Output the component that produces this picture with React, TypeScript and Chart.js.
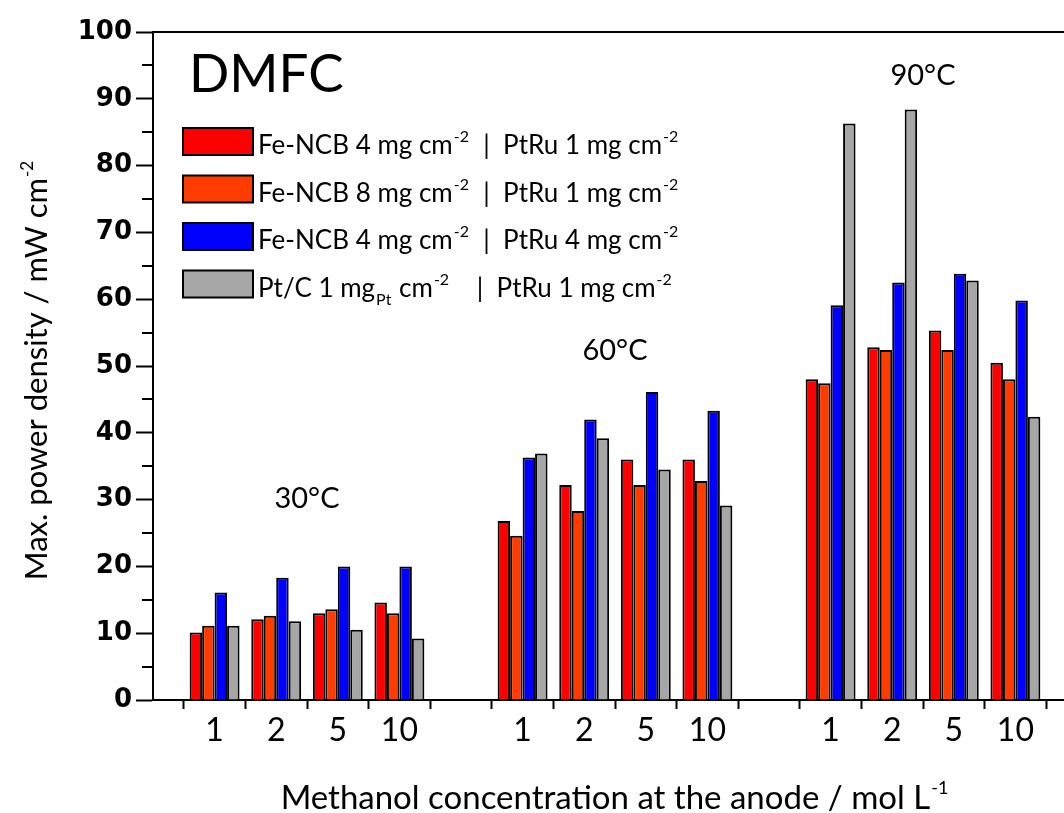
import React, { useEffect, useRef } from 'react';
import { Chart, registerables } from 'chart.js';

Chart.register(...registerables);

// ---- data ----
const slotLabels = ['', '1', '2', '5', '10', '', '1', '2', '5', '10', '', '1', '2', '5', '10', ''];
const feNcb4PtRu1 = [null, 10.1, 12.1, 13.0, 14.6, null, 26.8, 32.2, 36.0, 36.0, null, 48.0, 52.8, 55.3, 50.5, null];
const feNcb8PtRu1 = [null, 11.1, 12.6, 13.6, 13.0, null, 24.6, 28.3, 32.2, 32.8, null, 47.4, 52.4, 52.4, 48.0, null];
const feNcb4PtRu4 = [null, 16.1, 18.3, 20.0, 20.0, null, 36.3, 42.0, 46.1, 43.3, null, 59.1, 62.5, 63.8, 59.8, null];
const ptCPtRu1 = [null, 11.1, 11.8, 10.5, 9.2, null, 36.9, 39.2, 34.5, 29.1, null, 86.3, 88.4, 62.8, 42.4, null];

const seriesColors = ['#ff0000', '#ff3c00', '#0000ff', '#a6a6a6'];
const seriesData = [feNcb4PtRu1, feNcb8PtRu1, feNcb4PtRu4, ptCPtRu1];

type Part = { t: string; kind?: 'sup' | 'sub' };
const legendTexts: Part[][] = [
  [{ t: 'Fe-NCB 4 mg cm' }, { t: '-2', kind: 'sup' }, { t: '  |  PtRu 1 mg cm' }, { t: '-2', kind: 'sup' }],
  [{ t: 'Fe-NCB 8 mg cm' }, { t: '-2', kind: 'sup' }, { t: '  |  PtRu 1 mg cm' }, { t: '-2', kind: 'sup' }],
  [{ t: 'Fe-NCB 4 mg cm' }, { t: '-2', kind: 'sup' }, { t: '  |  PtRu 4 mg cm' }, { t: '-2', kind: 'sup' }],
  [{ t: 'Pt/C 1 mg' }, { t: 'Pt', kind: 'sub' }, { t: ' cm' }, { t: '-2', kind: 'sup' }, { t: '    |  PtRu 1 mg cm' }, { t: '-2', kind: 'sup' }],
];

const groupNames = ['30°C', '60°C', '90°C'];
const groupSlots = [[1, 2, 3, 4], [6, 7, 8, 9], [11, 12, 13, 14]];
const groupLabelValue = [28.7, 50.9, 92.1];

const yMin = 0;
const yMax = 100;
const yStep = 10;

const titleText = 'DMFC';
const xTitle: Part[] = [{ t: 'Methanol concentration at the anode / mol L' }, { t: '-1', kind: 'sup' }];
const yTitle: Part[] = [{ t: 'Max. power density / mW cm' }, { t: '-2', kind: 'sup' }];

const FONT = 'Lato, "Open Sans", sans-serif';

function richWidth(ctx: CanvasRenderingContext2D, parts: Part[], size: number, small: number) {
  let w = 0;
  for (const p of parts) {
    ctx.font = `${p.kind ? small : size}px ${FONT}`;
    w += ctx.measureText(p.t).width + (p.kind ? 2 : 0);
  }
  return w;
}

function drawRich(ctx: CanvasRenderingContext2D, parts: Part[], x: number, y: number, size: number, small: number, supOff: number, subOff: number) {
  let cx = x;
  ctx.textBaseline = 'alphabetic';
  ctx.textAlign = 'left';
  for (const p of parts) {
    ctx.font = `${p.kind ? small : size}px ${FONT}`;
    let dy = 0;
    if (p.kind === 'sup') dy = -supOff;
    if (p.kind === 'sub') dy = subOff;
    ctx.fillText(p.t, cx + (p.kind ? 1 : 0), y + dy);
    cx += ctx.measureText(p.t).width + (p.kind ? 2 : 0);
  }
}

const decorPlugin = {
  id: 'decor',
  afterDraw(chart: any) {
    const ctx: CanvasRenderingContext2D = chart.ctx;
    const { chartArea } = chart;
    const xs = chart.scales.x;
    const ys = chart.scales.y;
    ctx.save();
    ctx.strokeStyle = '#000';
    ctx.fillStyle = '#000';
    ctx.lineWidth = 2;
    // top + right frame
    ctx.beginPath();
    ctx.moveTo(chartArea.left, chartArea.top);
    ctx.lineTo(chartArea.right, chartArea.top);
    ctx.lineTo(chartArea.right, chartArea.bottom);
    ctx.stroke();
    // minor y ticks
    for (let v = yMin + yStep / 2; v < yMax; v += yStep) {
      const py = Math.round(ys.getPixelForValue(v));
      ctx.beginPath();
      ctx.moveTo(chartArea.left - 11, py);
      ctx.lineTo(chartArea.left, py);
      ctx.stroke();
    }
    // DMFC title
    ctx.font = `53px ${FONT}`;
    ctx.textAlign = 'left';
    ctx.textBaseline = 'alphabetic';
    ctx.fillText(titleText, 189, 92);
    // group labels
    ctx.font = `29px ${FONT}`;
    ctx.textAlign = 'center';
    groupNames.forEach((name, i) => {
      const slots = groupSlots[i];
      const c = (slots[0] + slots[slots.length - 1]) / 2;
      ctx.fillText(name, xs.getPixelForValue(c), ys.getPixelForValue(groupLabelValue[i]));
    });
    // legend
    chart.data.datasets.forEach((ds: any, i: number) => {
      const top = 128 + i * 47.5;
      ctx.fillStyle = ds.backgroundColor;
      ctx.fillRect(183, top, 70, 27);
      ctx.strokeStyle = '#000';
      ctx.lineWidth = 2;
      ctx.strokeRect(183, top, 70, 27);
      ctx.fillStyle = '#000';
      drawRich(ctx, legendTexts[i], 258, top + 26, 26, 16, 12, 8);
    });
    // x title
    const xw = richWidth(ctx, xTitle, 33, 18);
    drawRich(ctx, xTitle, (chartArea.left + chartArea.right) / 2 - xw / 2, 809, 33, 18, 15, 7);
    // y title
    ctx.save();
    const cy = (chartArea.top + chartArea.bottom) / 2 + 4;
    ctx.translate(47, cy);
    ctx.rotate(-Math.PI / 2);
    const yw = richWidth(ctx, yTitle, 31, 17);
    drawRich(ctx, yTitle, -yw / 2, 0, 31, 17, 14, 7);
    ctx.restore();
    ctx.restore();
  },
};

export default function App() {
  const ref = useRef<HTMLCanvasElement>(null);
  useEffect(() => {
    if (!ref.current) return;
    const chart = new Chart(ref.current, {
      type: 'bar',
      data: {
        labels: slotLabels,
        datasets: seriesData.map((d, i) => ({
          label: `series${i}`,
          data: d,
          backgroundColor: seriesColors[i],
          borderColor: '#000',
          borderWidth: 2,
          categoryPercentage: 0.81,
          barPercentage: 1,
        })),
      },
      options: {
        responsive: false,
        animation: false,
        devicePixelRatio: 1,
        layout: { padding: { left: 0, right: 33, top: 32, bottom: 0 } },
        plugins: { legend: { display: false }, tooltip: { enabled: false } },
        scales: {
          x: {
            type: 'category',
            offset: false,
            grid: { offset: true, drawOnChartArea: false, tickLength: 9, tickWidth: 2, color: '#000' },
            border: { display: true, color: '#000', width: 2 },
            ticks: { autoSkip: false, maxRotation: 0, color: '#000', font: { family: FONT, size: 32 }, padding: 2 },
            afterFit: (s: any) => { s.height = 113; },
          },
          y: {
            min: yMin,
            max: yMax,
            ticks: { stepSize: yStep, color: '#000', font: { family: '"DejaVu Sans"', size: 26, weight: 'bold' }, padding: 4 },
            grid: { drawOnChartArea: false, tickLength: 17, tickWidth: 2, color: '#000' },
            border: { display: true, color: '#000', width: 2 },
            afterFit: (s: any) => { s.width = 153; },
          },
        },
      } as any,
      plugins: [decorPlugin],
    });
    return () => chart.destroy();
  }, []);
  return (
    <div style={{ position: 'fixed', left: 0, top: 0, width: 1064, height: 813, overflow: 'hidden', background: '#fff' }}>
      <canvas ref={ref} width={1110} height={813} style={{ width: 1110, height: 813, display: 'block' }} />
    </div>
  );
}
